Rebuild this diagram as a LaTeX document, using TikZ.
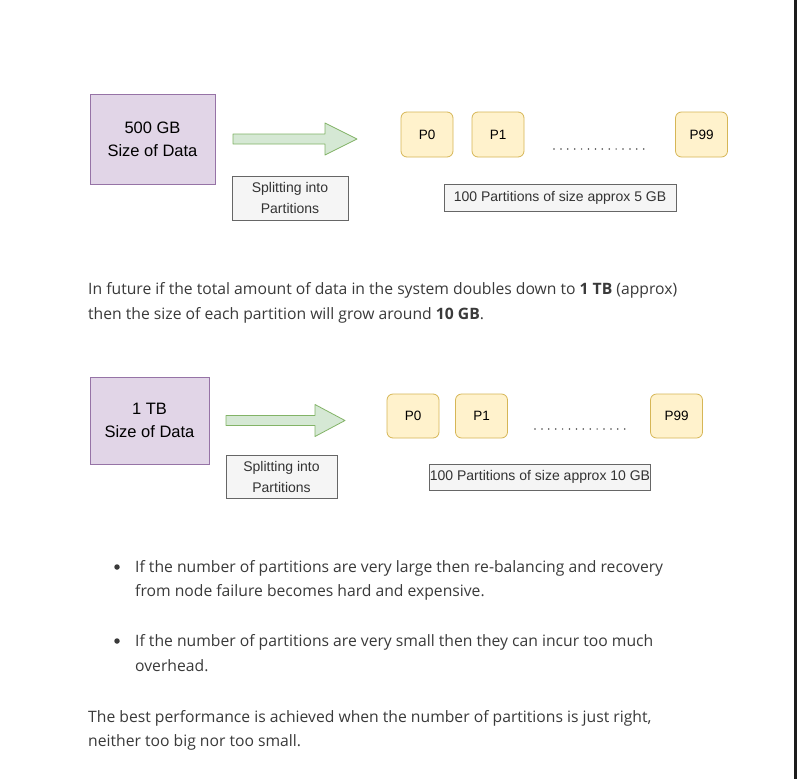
\documentclass[tikz,border=0pt]{standalone}
\usepackage{fontspec}
\setmainfont{Open Sans}
\newfontfamily\diagfont{Liberation Sans}
\usetikzlibrary{calc}
\definecolor{purpfill}{HTML}{E1D5E7}
\definecolor{purpline}{HTML}{9673A6}
\definecolor{grnfill}{HTML}{D5E8D4}
\definecolor{grnline}{HTML}{82B366}
\definecolor{yelfill}{HTML}{FFF2CC}
\definecolor{yelline}{HTML}{D6B656}
\definecolor{grayfill}{HTML}{F5F5F5}
\definecolor{grayline}{HTML}{666666}
\definecolor{bodytext}{HTML}{3A3A3A}
\definecolor{edgebar}{HTML}{1C1C1C}
\tikzset{
  datab/.style={draw=purpline, fill=purpfill, line width=0.8pt, align=center, font=\diagfont\fontsize{16.5}{23}\selectfont, inner sep=0pt},
  partb/.style={draw=yelline, fill=yelfill, rounded corners=6pt, line width=0.8pt, minimum width=52pt, minimum height=45pt, font=\diagfont\fontsize{13.5}{14}\selectfont, inner sep=0pt},
  labelb/.style={draw=grayline, fill=grayfill, line width=0.8pt, text=black!80, align=center, font=\diagfont\fontsize{14}{21}\selectfont, inner sep=0pt},
  blockarrow/.style={draw=grnline, fill=grnfill, line width=0.8pt, line join=round},
  dotline/.style={draw=black!70, line width=1.7pt, line cap=round, dash pattern=on 0pt off 6.9pt},
  bodyline/.style={anchor=west, inner sep=0pt, text=bodytext, font=\fontsize{15.7}{15.7}\selectfont},
  bulletdot/.style={circle, fill=bodytext, inner sep=0pt, minimum size=5.5pt}
}
\begin{document}
\begin{tikzpicture}[x=1pt, y=-1pt]
\useasboundingbox (0,0) rectangle (797,779);
\fill[white] (0,0) rectangle (797,779);
\fill[edgebar] (794,0) rectangle (797,779);

% ---------- top diagram ----------
\node[datab, minimum width=125pt, minimum height=90pt] (data1) at (152.5,139) {500 GB\\Size of Data};
\coordinate (a1s) at (233,139);
\coordinate (a1e) at (357,139);
\draw[blockarrow] ($(a1s)+(0,-5)$) -- ($(a1e)+(-32,-5)$) -- ($(a1e)+(-32,-16)$) -- (a1e) -- ($(a1e)+(-32,16)$) -- ($(a1e)+(-32,5)$) -- ($(a1s)+(0,5)$) -- cycle;
\node[labelb, minimum width=116pt, minimum height=44pt] (split1) at (290,198) {Splitting into\\Partitions};
\node[partb] (p0a) at (427,134.5) {P0};
\node[partb] (p1a) at (498,134.5) {P1};
\node[partb] (p99a) at (701.5,134.5) {P99};
\coordinate (d1s) at (554,149);
\coordinate (d1e) at (650,149);
\draw[dotline] (d1s) -- (d1e);
\node[labelb, minimum width=232pt, minimum height=27pt] (lab1) at (560,197.5) {100 Partitions of size approx 5 GB};

% ---------- middle paragraph ----------
\node[bodyline] (t1) at (88,290) {In future if the total amount of data in the system doubles down to \textbf{1 TB} (approx)};
\node[bodyline] (t2) at (88,315) {then the size of each partition will grow around \textbf{10 GB}.};

% ---------- bottom diagram ----------
\node[datab, minimum width=119pt, minimum height=87pt] (data2) at (149.5,420.5) {1 TB\\Size of Data};
\coordinate (a2s) at (226,420.5);
\coordinate (a2e) at (345,420.5);
\draw[blockarrow] ($(a2s)+(0,-5)$) -- ($(a2e)+(-30,-5)$) -- ($(a2e)+(-30,-16)$) -- (a2e) -- ($(a2e)+(-30,16)$) -- ($(a2e)+(-30,5)$) -- ($(a2s)+(0,5)$) -- cycle;
\node[labelb, minimum width=111pt, minimum height=43pt] (split2) at (281.5,476.5) {Splitting into\\Partitions};
\node[partb, minimum height=44pt] (p0b) at (413,416) {P0};
\node[partb, minimum height=44pt] (p1b) at (481.5,416) {P1};
\node[partb, minimum height=44pt] (p99b) at (676.5,416) {P99};
\coordinate (d2s) at (535,429);
\coordinate (d2e) at (627,429);
\draw[dotline] (d2s) -- (d2e);
\node[labelb, minimum width=221pt, minimum height=26pt] (lab2) at (540,477) {100 Partitions of size approx 10 GB};

% ---------- bullets ----------
\node[bulletdot] (b1) at (117,567) {};
\node[bodyline] (t3) at (135,568) {If the number of partitions are very large then re-balancing and recovery};
\node[bodyline] (t4) at (135,592) {from node failure becomes hard and expensive.};
\node[bulletdot] (b2) at (117,641) {};
\node[bodyline] (t5) at (135,642) {If the number of partitions are very small then they can incur too much};
\node[bodyline] (t6) at (135,666) {overhead.};
\node[bodyline] (t7) at (88,718) {The best performance is achieved when the number of partitions is just right,};
\node[bodyline] (t8) at (88,742) {neither too big nor too small.};
\end{tikzpicture}
\end{document}
